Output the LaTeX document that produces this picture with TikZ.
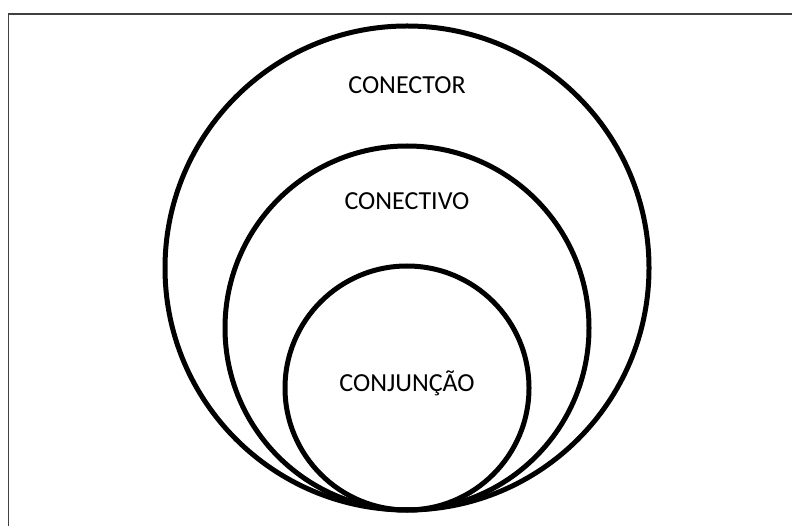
\documentclass[tikz,border=0pt]{standalone}
\usepackage{fontspec}
\setmainfont{Carlito}
\begin{document}
\begin{tikzpicture}[x=1pt,y=-1pt,
  ring/.style={draw=black,line width=5pt},
  lbl/.style={font=\fontsize{26}{30}\selectfont,text=black,inner sep=0pt}]
\useasboundingbox (0,0) rectangle (792,526);
\draw[color=black!75,line width=1.6pt] (792,14) -- (8.5,14) -- (8.5,526);
\draw[ring] (407,268) circle[radius=242];
\draw[ring] (407,328) circle[radius=182];
\draw[ring] (407,388) circle[radius=122];
\node[lbl] (conector) at (407,85) {CONECTOR};
\node[lbl] (conectivo) at (407,201) {CONECTIVO};
\node[lbl] (conjuncao) at (407,383) {CONJUNÇÃO};
\end{tikzpicture}
\end{document}
